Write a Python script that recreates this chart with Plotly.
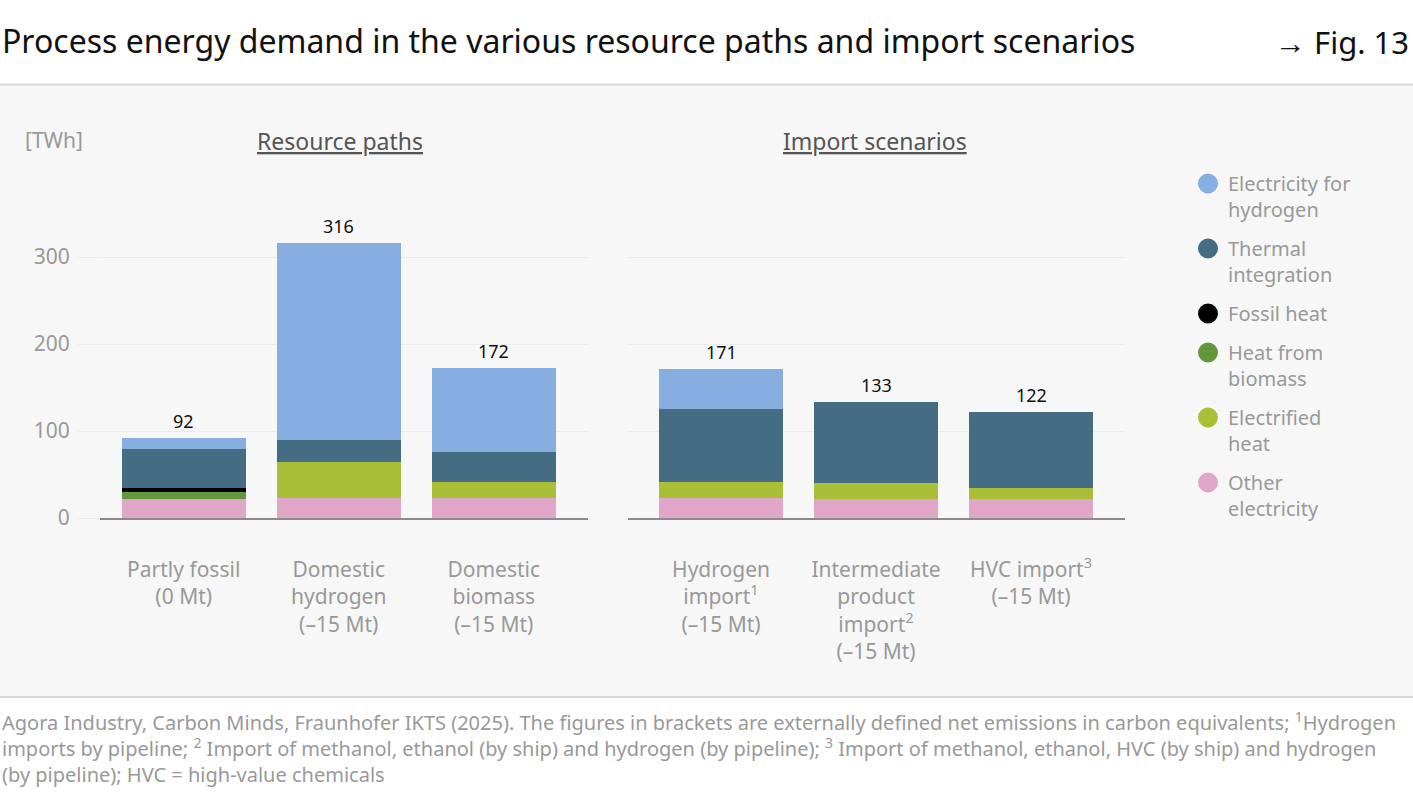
import plotly.graph_objects as go

W, H = 1413, 798
FONT = "Noto Sans"

# ---------------- data ----------------
left_keys = ["Partly fossil", "Domestic hydrogen", "Domestic biomass"]
left_labels = ["Partly fossil<br>(0 Mt)", "Domestic<br>hydrogen<br>(–15 Mt)", "Domestic<br>biomass<br>(–15 Mt)"]
right_keys = ["Hydrogen import", "Intermediate product import", "HVC import"]
right_labels = ["Hydrogen<br>import<sup>1</sup><br>(–15 Mt)",
                "Intermediate<br>product<br>import<sup>2</sup><br>(–15 Mt)",
                "HVC import<sup>3</sup><br>(–15 Mt)"]

series_names = ["Other electricity", "Electrified heat", "Heat from biomass",
                "Fossil heat", "Thermal integration", "Electricity for hydrogen"]
series_colors = ["#e0a6c8", "#a8bf37", "#64963c", "#000000", "#446d84", "#86aee0"]

left_other_el = [21.5, 23.3, 23.3]
left_electrified = [0, 41.1, 18.1]
left_biomass = [8.7, 0, 0]
left_fossil = [4.0, 0, 0]
left_thermal = [45.0, 25.0, 34.5]
left_el_h2 = [12.8, 226.6, 96.1]

right_other_el = [23.3, 21.8, 21.8]
right_electrified = [18.1, 18.4, 12.3]
right_biomass = [0, 0, 0]
right_fossil = [0, 0, 0]
right_thermal = [83.5, 92.8, 87.9]
right_el_h2 = [46.1, 0, 0]

y_ticks = [0, 100, 200, 300]

left_series = [left_other_el, left_electrified, left_biomass, left_fossil, left_thermal, left_el_h2]
right_series = [right_other_el, right_electrified, right_biomass, right_fossil, right_thermal, right_el_h2]
left_totals = [sum(v) for v in zip(*left_series)]
right_totals = [sum(v) for v in zip(*right_series)]

# ---------------- figure ----------------
def py(px):
    return (H - px) / H

def pxx(px):
    return px / W

fig = go.Figure()

for name, color, lv, rv in zip(series_names, series_colors, left_series, right_series):
    fig.add_trace(go.Bar(x=left_keys, y=lv, name=name, marker_color=color,
                         marker_line_width=0, width=0.8, showlegend=False,
                         xaxis="x", yaxis="y"))
    fig.add_trace(go.Bar(x=right_keys, y=rv, name=name, marker_color=color,
                         marker_line_width=0, width=0.8, showlegend=False,
                         xaxis="x2", yaxis="y2"))

# legend entries (top to bottom)
legend_text = {
    "Electricity for hydrogen": "Electricity for<br>hydrogen",
    "Thermal integration": "Thermal<br>integration",
    "Fossil heat": "Fossil heat",
    "Heat from biomass": "Heat from<br>biomass",
    "Electrified heat": "Electrified<br>heat",
    "Other electricity": "Other<br>electricity",
}
for name, color in reversed(list(zip(series_names, series_colors))):
    fig.add_trace(go.Scatter(x=[None], y=[None], mode="markers", name=legend_text[name],
                             legendgroup=name,
                             marker=dict(symbol="circle", size=16, color=color,
                                         line=dict(color=color, width=4)),
                             xaxis="x", yaxis="y"))

axis_common = dict(showgrid=False, zeroline=False, showline=True, linecolor="#8a8a8a",
                   linewidth=1.5, ticks="", tickfont=dict(size=21, color="#999999", family=FONT),
                   ticklabelstandoff=32, type="category", fixedrange=True, automargin=False)

y_common = dict(range=[0, 360], tickvals=y_ticks, showgrid=True, gridcolor="#ebebeb",
                gridwidth=1, zeroline=False, showline=False, fixedrange=True, automargin=False,
                domain=[py(518), py(518 - 360 * 0.87)])

fig.update_layout(
    width=W, height=H, autosize=False,
    margin=dict(l=0, r=0, t=0, b=0, pad=0, autoexpand=False),
    paper_bgcolor="white", plot_bgcolor="rgba(0,0,0,0)",
    barmode="stack", bargap=0.2,
    font=dict(family=FONT, color="#999999"),
    xaxis=dict(domain=[pxx(100), pxx(588)], range=[-0.54, 2.608],
               tickvals=left_keys, ticktext=left_labels, **axis_common),
    xaxis2=dict(domain=[pxx(628), pxx(1125)], range=[-0.6, 2.606], anchor="y2",
                tickvals=right_keys, ticktext=right_labels, **axis_common),
    yaxis=dict(tickfont=dict(size=21, color="#999999", family=FONT), ticklabelstandoff=4,
               ticks="outside", ticklen=21, tickcolor="#ebebeb", tickwidth=1,
               anchor="x", **y_common),
    yaxis2=dict(showticklabels=False, anchor="x2", matches="y", **y_common),
    legend=dict(x=pxx(1188), y=py(164), xanchor="left", yanchor="top",
                font=dict(size=20, color="#999999", family=FONT),
                bgcolor="rgba(0,0,0,0)", traceorder="grouped", tracegroupgap=10,
                valign="top", itemwidth=30),
    showlegend=True,
)

shapes = [
    dict(type="rect", xref="paper", yref="paper", x0=0, x1=1, y0=py(697), y1=py(85),
         fillcolor="#f7f7f7", line_width=0, layer="below"),
    dict(type="line", xref="paper", yref="paper", x0=0, x1=1, y0=py(84.5), y1=py(84.5),
         line=dict(color="#d9d9d9", width=2)),
    dict(type="line", xref="paper", yref="paper", x0=0, x1=1, y0=py(697), y1=py(697),
         line=dict(color="#d9d9d9", width=2)),
]
fig.update_layout(shapes=shapes)

ann = [
    dict(text="Process energy demand in the various resource paths and import scenarios",
         x=0, y=py(40), xanchor="left", yanchor="middle",
         font=dict(size=32, color="#111111", family=FONT)),
    dict(text="→ Fig. 13", x=pxx(1411), y=py(42), xanchor="right", yanchor="middle",
         font=dict(size=31, color="#111111", family=FONT)),
    dict(text="<span style='text-decoration:underline'>Resource paths</span>",
         x=pxx(340), y=py(141), xanchor="center", yanchor="middle",
         font=dict(size=23, color="#555555", family=FONT)),
    dict(text="<span style='text-decoration:underline'>Import scenarios</span>",
         x=pxx(875), y=py(141), xanchor="center", yanchor="middle",
         font=dict(size=23, color="#555555", family=FONT)),
    dict(text="[TWh]", x=pxx(23), y=py(140), xanchor="left", yanchor="middle",
         font=dict(size=21, color="#999999", family=FONT)),
    dict(text="Agora Industry, Carbon Minds, Fraunhofer IKTS (2025). The figures in brackets are externally defined net emissions in carbon equivalents; <sup>1</sup>Hydrogen<br>"
              "imports by pipeline; <sup>2</sup> Import of methanol, ethanol (by ship) and hydrogen (by pipeline); <sup>3</sup> Import of methanol, ethanol, HVC (by ship) and hydrogen<br>"
              "(by pipeline); HVC = high-value chemicals",
         x=0, y=py(705), xanchor="left", yanchor="top", align="left",
         font=dict(size=20, color="#999999", family=FONT)),
]
for a in ann:
    a.update(xref="paper", yref="paper", showarrow=False)

# totals above bars, placed through the data axes
for keys, totals, xr, yr in ((left_keys, left_totals, "x", "y"), (right_keys, right_totals, "x2", "y2")):
    for k, t in zip(keys, totals):
        ann.append(dict(text=f"{t:.0f}", x=k, y=t, xref=xr, yref=yr, xanchor="center",
                        yanchor="bottom", yshift=3, showarrow=False,
                        font=dict(size=18, color="#111111", family=FONT)))

fig.update_layout(annotations=ann)

fig.write_html("out.html")
